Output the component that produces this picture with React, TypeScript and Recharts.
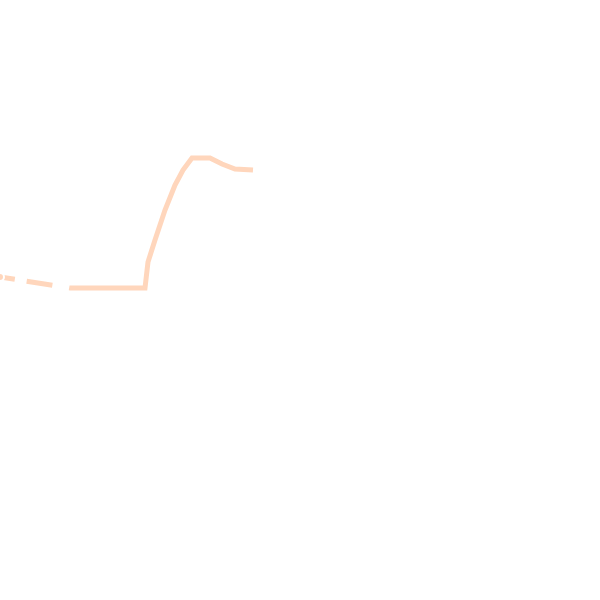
import React from 'react';
import { LineChart, Line, XAxis, YAxis } from 'recharts';

// values (x in tenths of the width, y in tenths of the height from the bottom)
const xValues = [0, 7, 14.5, 14.8, 15.5, 16.5, 17.5, 18.3, 19.2, 21, 22.2, 23.5, 25.3];
const yValues = [32.3, 31.2, 31.2, 33.8, 36, 39, 41.5, 43, 44.2, 44.2, 43.6, 43.1, 43];

const chartData = xValues.map((x, i) => ({ x, y: yValues[i] }));

export default function App() {
    return (
        <div style={{ position: 'absolute', top: 0, left: 0, width: 600, height: 600, background: '#fff' }}>
            <LineChart width={600} height={600} data={chartData} margin={{ top: 0, right: 0, bottom: 0, left: 0 }}>
                <XAxis dataKey="x" type="number" domain={[0, 60]} hide />
                <YAxis type="number" domain={[0, 60]} hide />
                <Line
                    type="linear"
                    dataKey="y"
                    stroke="#ffd6bc"
                    strokeWidth={5}
                    strokeDasharray="15 12 26 17 1000"
                    dot={false}
                    isAnimationActive={false}
                />
            </LineChart>
        </div>
    );
}
